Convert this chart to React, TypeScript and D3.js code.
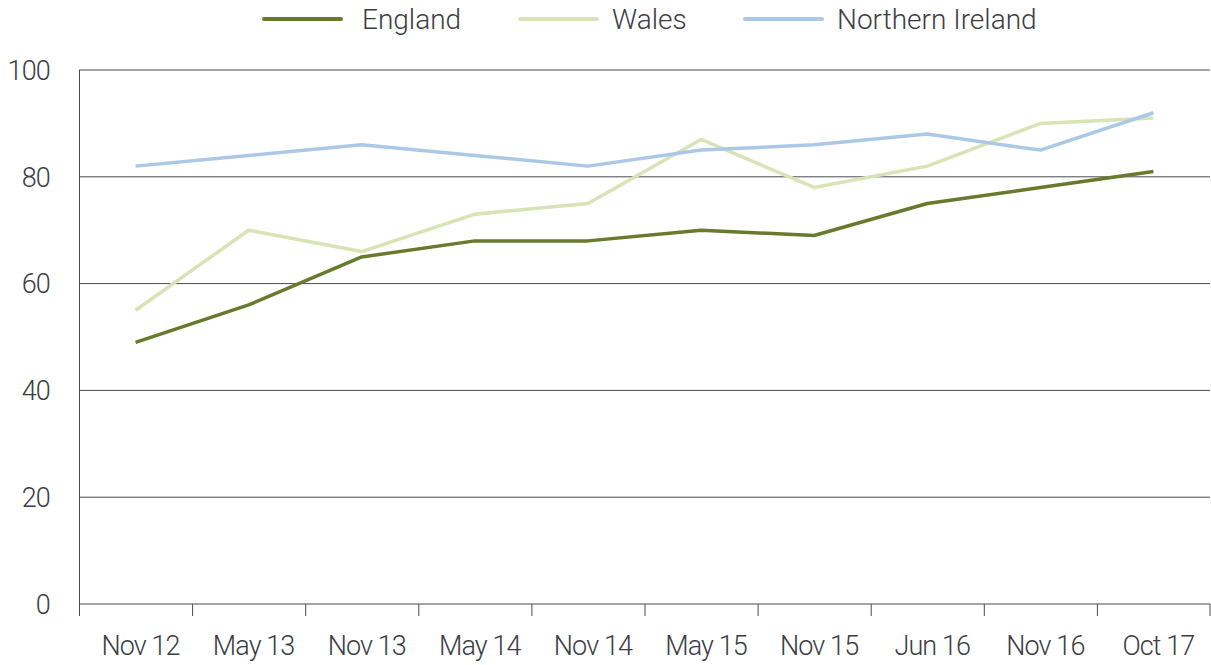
import React from 'react'
import * as d3 from 'd3'

const periods = ['Nov 12', 'May 13', 'Nov 13', 'May 14', 'Nov 14', 'May 15', 'Nov 15', 'Jun 16', 'Nov 16', 'Oct 17']
const england = [49, 56, 65, 68, 68, 70, 69, 75, 78, 81]
const wales = [55, 70, 66, 73, 75, 87, 78, 82, 90, 91]
const northernIreland = [82, 84, 86, 84, 82, 85, 86, 88, 85, 92]
const yTicks = [0, 20, 40, 60, 80, 100]

const series = [
    { name: 'England', values: england, color: '#687a2c' },
    { name: 'Wales', values: wales, color: '#d8e3b6' },
    { name: 'Northern Ireland', values: northernIreland, color: '#abc8e7' },
]

const width = 1211
const height = 665
const margin = { top: 70, right: 1, bottom: 61, left: 79 }
const textColor = '#3c3c44'
const font = 'Roboto, "DejaVu Sans", sans-serif'

// legend line start and text start, per series
const legendLineX = [264, 520, 745]
const legendTextX = [362, 612, 837]

const App = () => {
    const x = d3
        .scaleBand()
        .domain(periods)
        .range([margin.left, width - margin.right])
    const y = d3
        .scaleLinear()
        .domain([0, 100])
        .range([height - margin.bottom, margin.top])
    const line = d3.line<number>()
        .x((_, i) => x(periods[i])! + x.bandwidth() / 2)
        .y(d => y(d))

    const x0 = margin.left
    const x1 = width - margin.right
    const yBase = y(0)

    return (
        <svg width={width} height={height} style={{ position: 'absolute', left: 0, top: 0 }} fontFamily={font} fontWeight={300}>
            {yTicks.map(t => (
                <g key={t}>
                    {t > 0 && <line x1={x0} x2={x1} y1={y(t)} y2={y(t)} stroke="#4a4a50" strokeWidth={1} />}
                    <text x={50} y={y(t)} dy="0.36em" textAnchor="end" fontSize={27} letterSpacing={-0.8} fill={textColor}>{t}</text>
                </g>
            ))}
            <line x1={x0} x2={x1} y1={yBase} y2={yBase} stroke="#4a4a50" strokeWidth={1} />
            <line x1={x0 + 0.5} x2={x0 + 0.5} y1={y(100)} y2={yBase + 12} stroke="#4a4a50" strokeWidth={1} />
            {[...periods.map(p => x(p)!), x1 - 0.5].map((tx, i) => (
                <line key={i} x1={tx + 0.5} x2={tx + 0.5} y1={yBase} y2={yBase + 12} stroke="#4a4a50" strokeWidth={1} />
            ))}
            {periods.map(p => (
                <text key={p} x={x(p)! + x.bandwidth() / 2 + 5} y={655} textAnchor="middle" fontSize={27} letterSpacing={-0.9} fill={textColor}>{p}</text>
            ))}
            {series.map(s => (
                <path key={s.name} d={line(s.values)!} fill="none" stroke={s.color} strokeWidth={3.5} strokeLinejoin="round" />
            ))}
            {series.map((s, i) => (
                <g key={s.name}>
                    <line x1={legendLineX[i]} x2={legendLineX[i] + 77} y1={19} y2={19} stroke={s.color} strokeWidth={4} strokeLinecap="round" />
                    <text x={legendTextX[i]} y={19} dy="0.36em" fontSize={28} letterSpacing={0} fill={textColor}>{s.name}</text>
                </g>
            ))}
        </svg>
    )
}

export default App
